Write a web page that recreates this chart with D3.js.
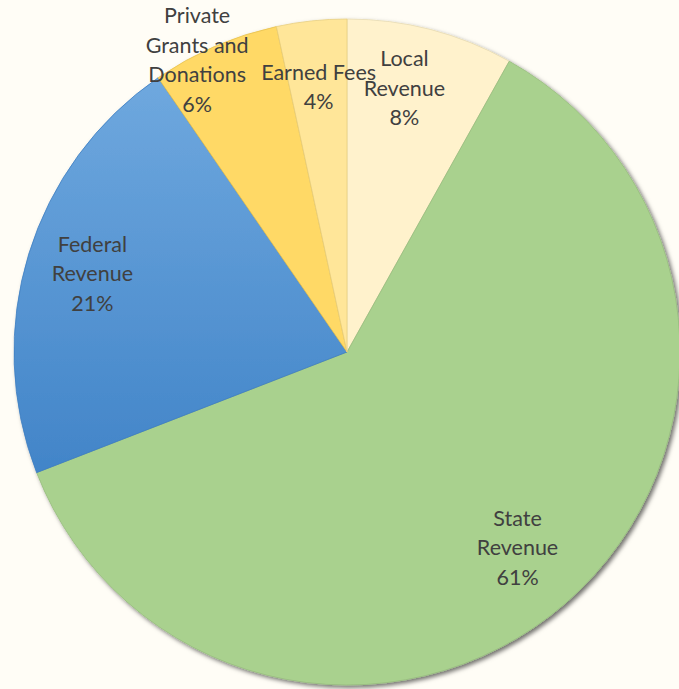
<!DOCTYPE html>
<html>
<head>
<meta charset="utf-8">
<script src="https://cdn.jsdelivr.net/npm/d3@7"></script>
<style>
  html, body { margin: 0; padding: 0; background: #fffdf6; }
  svg { display: block; }
</style>
</head>
<body>
<div id="chart"></div>
<script>
let w = 679;
let h = 689;

// data
let categories = ["Local Revenue", "State Revenue", "Federal Revenue", "Private Grants and Donations", "Earned Fees"];
let values = [8.1, 61.0, 21.3, 6.2, 3.4];
let percentLabels = ["8%", "61%", "21%", "6%", "4%"];
let labelLines = [["Local", "Revenue"], ["State", "Revenue"], ["Federal", "Revenue"], ["Private", "Grants and", "Donations"], ["Earned Fees"]];
let colors = ["#fff2cc", "#a9d18e", "url(#fedGrad)", "#ffd966", "#ffe699"];
let strokes = ["#e9dcb2", "#97bd7e", "#3f7fc2", "#e6c150", "#e9cf80"];

let cx = 347, cy = 352, r = 333;

let svg = d3.select("#chart")
  .append("svg")
  .attr("width", w)
  .attr("height", h)
  .style("background-color", "#fffdf6");

let defs = svg.append("defs");

// coordinates are local to the translated pie group
let grad = defs.append("linearGradient")
  .attr("id", "fedGrad")
  .attr("gradientUnits", "userSpaceOnUse")
  .attr("x1", 0).attr("y1", -r * 0.85)
  .attr("x2", 0).attr("y2", r * 0.38);
grad.append("stop").attr("offset", "0%").attr("stop-color", "#70a9df");
grad.append("stop").attr("offset", "100%").attr("stop-color", "#4184c8");

let shadow = defs.append("filter")
  .attr("id", "shadow")
  .attr("x", "-10%").attr("y", "-10%")
  .attr("width", "120%").attr("height", "120%");
shadow.append("feDropShadow")
  .attr("dx", 2.5)
  .attr("dy", 2.5)
  .attr("stdDeviation", 2)
  .attr("flood-color", "#000")
  .attr("flood-opacity", 0.55);

let slices = categories.map((c, i) => ({ name: c, value: values[i], pct: percentLabels[i], lines: labelLines[i], i: i }));

let pie = d3.pie()
  .value(d => d.value)
  .sort(null);

let arcs = pie(slices);

let arc = d3.arc()
  .innerRadius(0)
  .outerRadius(r);

let g = svg.append("g")
  .attr("transform", `translate(${cx}, ${cy})`);

g.append("g")
  .attr("filter", "url(#shadow)")
  .selectAll("path")
  .data(arcs)
  .join("path")
  .attr("d", arc)
  .attr("fill", d => colors[d.data.i])
  .attr("stroke", d => strokes[d.data.i])
  .attr("stroke-width", 0.8);

// label placement, like Excel's best fit
function labelPos(d) {
  let mid = (d.startAngle + d.endAngle) / 2;
  let lr = r * 0.8;
  if (d.data.name.startsWith("Private")) {
    mid -= 0.066;
    lr = r * 0.985;
  }
  if (d.data.name.startsWith("Local")) {
    mid -= 0.04;
    lr = r * 0.81;
  }
  if (d.data.name.startsWith("State")) {
    lr = r * 0.78;
  }
  return [Math.sin(mid) * lr, -Math.cos(mid) * lr];
}

let lineH = 29.5;

let labels = g.append("g")
  .selectAll("text")
  .data(arcs)
  .join("text")
  .attr("text-anchor", "middle")
  .attr("font-family", "Lato, 'Open Sans', sans-serif")
  .attr("font-size", 21.5)
  .attr("fill", "#404040")
  .attr("transform", d => `translate(${labelPos(d)})`);

labels.each(function(d) {
  let lines = d.data.lines.concat([d.data.pct]);
  let n = lines.length;
  d3.select(this).selectAll("tspan")
    .data(lines)
    .join("tspan")
    .attr("x", 0)
    .attr("y", (t, k) => (k - (n - 1) / 2) * lineH)
    .attr("dy", "0.35em")
    .text(t => t);
});
</script>
</body>
</html>
